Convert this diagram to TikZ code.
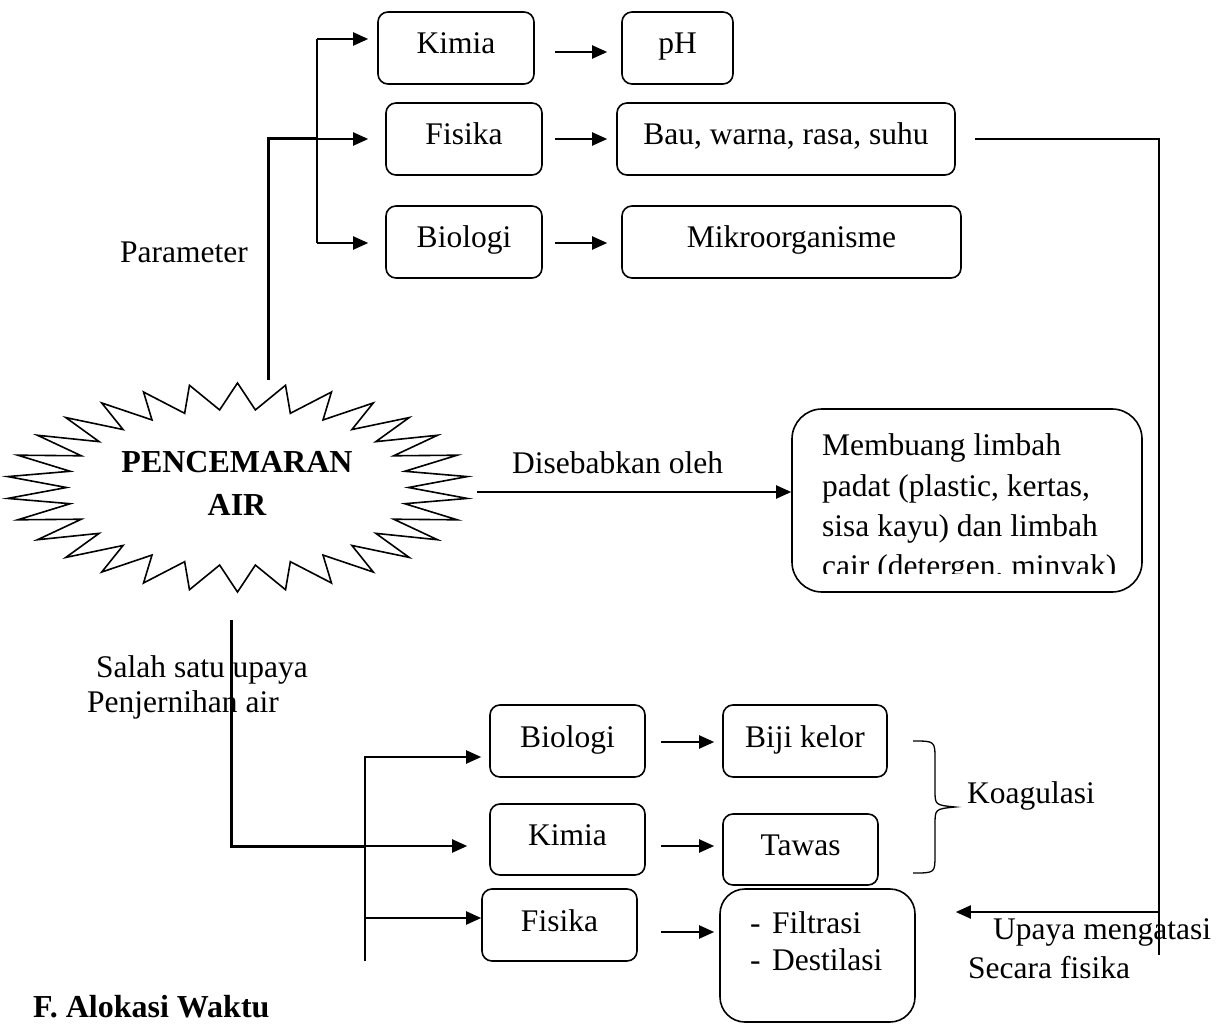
\documentclass[tikz,border=0pt]{standalone}
\usepackage{fontspec}
\setmainfont{Liberation Serif}
\usetikzlibrary{arrows.meta}
\begin{document}
\begin{tikzpicture}[x=1pt,y=-1pt,
  font=\fontsize{31.5}{40}\selectfont,
  ln/.style={line width=2pt},
  thk/.style={line width=3pt},
  arr/.style={line width=2pt,-{Triangle[length=15pt,width=13pt]}},
  box/.style={draw, line width=1.6pt, rounded corners=10pt, inner sep=0pt,
              text height=21pt, text depth=9pt},
  lbl/.style={inner sep=0pt, anchor=base west},
  brc/.style={line width=1.3pt}]
\useasboundingbox (0,0) rectangle (1221,1024);

% ---------- top: parameter ----------
\node[box, minimum width=156, minimum height=72] (kimiaT) at (456,48) {Kimia};
\node[box, minimum width=111, minimum height=72] (ph) at (677.5,48) {pH};
\node[box, minimum width=156, minimum height=72] (fisikaT) at (464,139) {Fisika};
\node[box, minimum width=338, minimum height=72] (bau) at (786,139) {Bau, warna, rasa, suhu};
\node[box, minimum width=156, minimum height=72] (biologiT) at (464,242) {Biologi};
\node[box, minimum width=339, minimum height=72] (mikro) at (791.5,242) {Mikroorganisme};

\node[lbl] (param) at (120,263) {Parameter};

\coordinate (ptop) at (268,380);
\draw[thk] (ptop) -- (268,139) -- (317,139);
\draw[arr, shorten >=17pt] (317,139) -- (fisikaT.west);
\draw[ln] (317,39) -- (317,243);
\draw[arr, shorten >=9pt] (317,39) -- (kimiaT.west |- 0,39);
\draw[arr, shorten >=17pt] (317,243) -- (biologiT.west |- 0,243);

\draw[arr, shorten <=20pt, shorten >=14pt] (kimiaT.east |- 0,52) -- (ph.west |- 0,52);
\draw[arr, shorten <=12pt, shorten >=9pt] (fisikaT.east) -- (bau.west);
\draw[arr, shorten <=12pt, shorten >=14pt] (biologiT.east |- 0,243) -- (mikro.west |- 0,243);

% ---------- starburst ----------
\draw[line width=1.6pt] plot[samples at={0,...,59}]
  ({237.5+(171+60*(1-mod(\x,2)))*cos(\x*6+90)},
   {487.5+(78+26.5*(1-mod(\x,2)))*sin(\x*6+90)}) -- cycle;
\node[inner sep=0pt, align=center, font=\fontsize{32}{43}\selectfont\bfseries]
  (burst) at (237,483.5) {PENCEMARAN\\AIR};

% ---------- cause ----------
\node[lbl] (sebab) at (512,473) {Disebabkan oleh};
\node[draw, line width=1.6pt, rounded corners=30pt, minimum width=350,
      minimum height=183, inner sep=0pt] (limbah) at (967,500.5) {};
\begin{scope}
  \clip (792,400) rectangle (1142,573);
  \node[lbl] (l1) at (822,455) {Membuang limbah};
  \node[lbl] (l2) at (822,496) {padat (plastic, kertas,};
  \node[lbl] (l3) at (822,536) {sisa kayu) dan limbah};
  \node[lbl] (l4) at (822,576) {cair (detergen, minyak)};
\end{scope}
\coordinate (sright) at (477,492);
\draw[arr] (sright) -- (limbah.west |- 0,492);

% ---------- bottom: penjernihan ----------
\node[lbl] (salah) at (96,677) {Salah satu upaya};
\node[lbl] (jernih) at (87,712) {Penjernihan air};

\node[box, minimum width=155, minimum height=72] (biologiB) at (567.5,741) {Biologi};
\node[box, minimum width=155, minimum height=71] (kimiaB) at (567.5,839.5) {Kimia};
\node[box, minimum width=155, minimum height=72] (fisikaB) at (559.5,925) {Fisika};
\node[box, minimum width=164, minimum height=72] (biji) at (805,741) {Biji kelor};
\node[box, minimum width=155, minimum height=71] (tawas) at (800.5,849.5) {Tawas};
\node[draw, line width=1.6pt, rounded corners=25pt, minimum width=195,
      minimum height=133, inner sep=0pt] (filt) at (817.5,955.5) {};
\node[lbl] (d1) at (750,933) {-};
\node[lbl] (f1) at (772,933) {Filtrasi};
\node[lbl] (d2) at (750,970) {-};
\node[lbl] (f2) at (772,970) {Destilasi};

\coordinate (pbot) at (231,620);
\draw[thk] (pbot) -- (231,846) -- (365,846);
\draw[arr, shorten >=22pt] (365,846) -- (kimiaB.west |- 0,846);
\draw[ln] (365,756) -- (365,961);
\draw[arr, shorten >=8pt] (365,757) -- (biologiB.west |- 0,757);
\draw[arr] (365,918) -- (fisikaB.west |- 0,918);

\draw[arr, shorten <=15pt, shorten >=8pt] (biologiB.east |- 0,742) -- (biji.west |- 0,742);
\draw[arr, shorten <=15pt, shorten >=8pt] (kimiaB.east |- 0,846) -- (tawas.west |- 0,846);
\draw[arr, shorten <=23pt, shorten >=5pt] (fisikaB.east |- 0,932) -- (filt.west |- 0,932);

% brace + Koagulasi
\draw[brc] (913,741) .. controls (935,741) .. (935,760) -- (935,790)
  .. controls (935,805) .. (955,807) .. controls (935,809) .. (935,825)
  -- (935,855) .. controls (935,873) .. (913,873);
\node[lbl] (koag) at (967,803) {Koagulasi};

% right loop
\draw[ln, shorten <=19pt] (bau.east) -- (1159,139) -- (1159,955);
\draw[arr, shorten >=40pt] (1159,912) -- (filt.east |- 0,912);
\node[lbl] (upaya) at (993,939) {Upaya mengatasi};
\node[lbl] (secara) at (968,978) {Secara fisika};

\node[lbl, font=\fontsize{32}{40}\selectfont\bfseries] (alok) at (33,1017) {F. Alokasi Waktu};
\end{tikzpicture}
\end{document}
